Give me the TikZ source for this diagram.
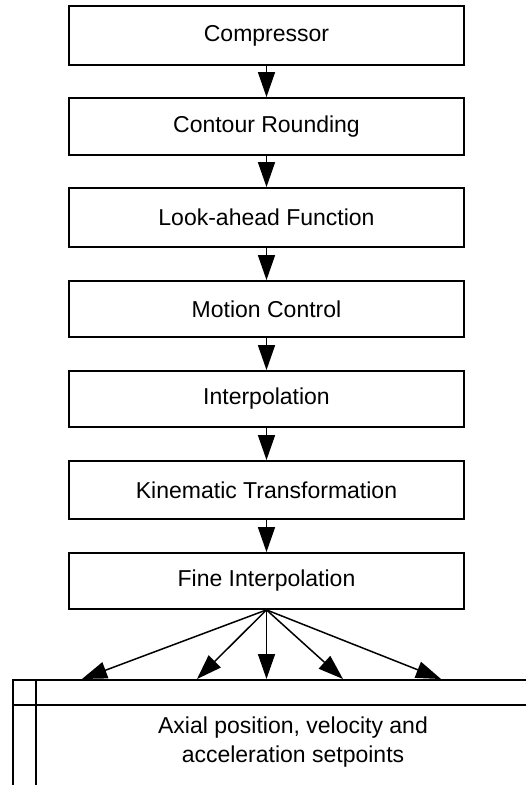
\documentclass[tikz,border=0pt]{standalone}
\usepackage{fontspec}
\setmainfont{Liberation Sans}
\usetikzlibrary{arrows.meta}
\begin{document}
\begin{tikzpicture}[x=1pt,y=-1pt,
  blk/.style={draw=black, line width=1.8pt, minimum width=395pt, inner sep=0pt, font=\fontsize{23}{28}\selectfont},
  flow/.style={line width=1.5pt, -{Triangle[length=25pt,width=17pt]}},
  frame/.style={line width=1.8pt},
  txt/.style={font=\fontsize{23}{29}\selectfont, align=center, inner sep=0pt}]
\useasboundingbox (0,0) rectangle (526,785);
\clip (0,0) rectangle (526,785);
\node[blk, minimum height=59pt] (b1) at (266.5,35.5) {Compressor};
\node[blk, minimum height=57pt] (b2) at (266.5,126.5) {Contour Rounding};
\node[blk, minimum height=59pt] (b3) at (266.5,217.5) {Look-ahead Function};
\node[blk, minimum height=56pt] (b4) at (266.5,309) {Motion Control};
\node[blk, minimum height=56pt] (b5) at (266.5,399) {Interpolation};
\node[blk, minimum height=58pt] (b6) at (266.5,490) {Kinematic Transformation};
\node[blk, minimum height=56pt] (b7) at (266.5,581) {Fine Interpolation};
\draw[flow] (b1.south) -- (b2.north);
\draw[flow] (b2.south) -- (b3.north);
\draw[flow] (b3.south) -- (b4.north);
\draw[flow] (b4.south) -- (b5.north);
\draw[flow] (b5.south) -- (b6.north);
\draw[flow] (b6.south) -- (b7.north);
% output box (cut by the picture's edge)
\node[draw=black, frame, anchor=north west, minimum width=600pt, minimum height=200pt, inner sep=0pt] (out) at (12,679) {};
\draw[frame] (12,705) -- (620,705);
\draw[frame] (36,679) -- (36,880);
\node[txt] (outtxt) at (293,742) {Axial position, velocity and\\acceleration setpoints};
\coordinate (t1) at (82,679);
\coordinate (t2) at (197,679);
\coordinate (t3) at (266.5,679);
\coordinate (t4) at (343,679);
\coordinate (t5) at (441,679);
\foreach \t in {t1,t2,t3,t4,t5} \draw[flow] (b7.south) -- (\t);
\end{tikzpicture}
\end{document}
